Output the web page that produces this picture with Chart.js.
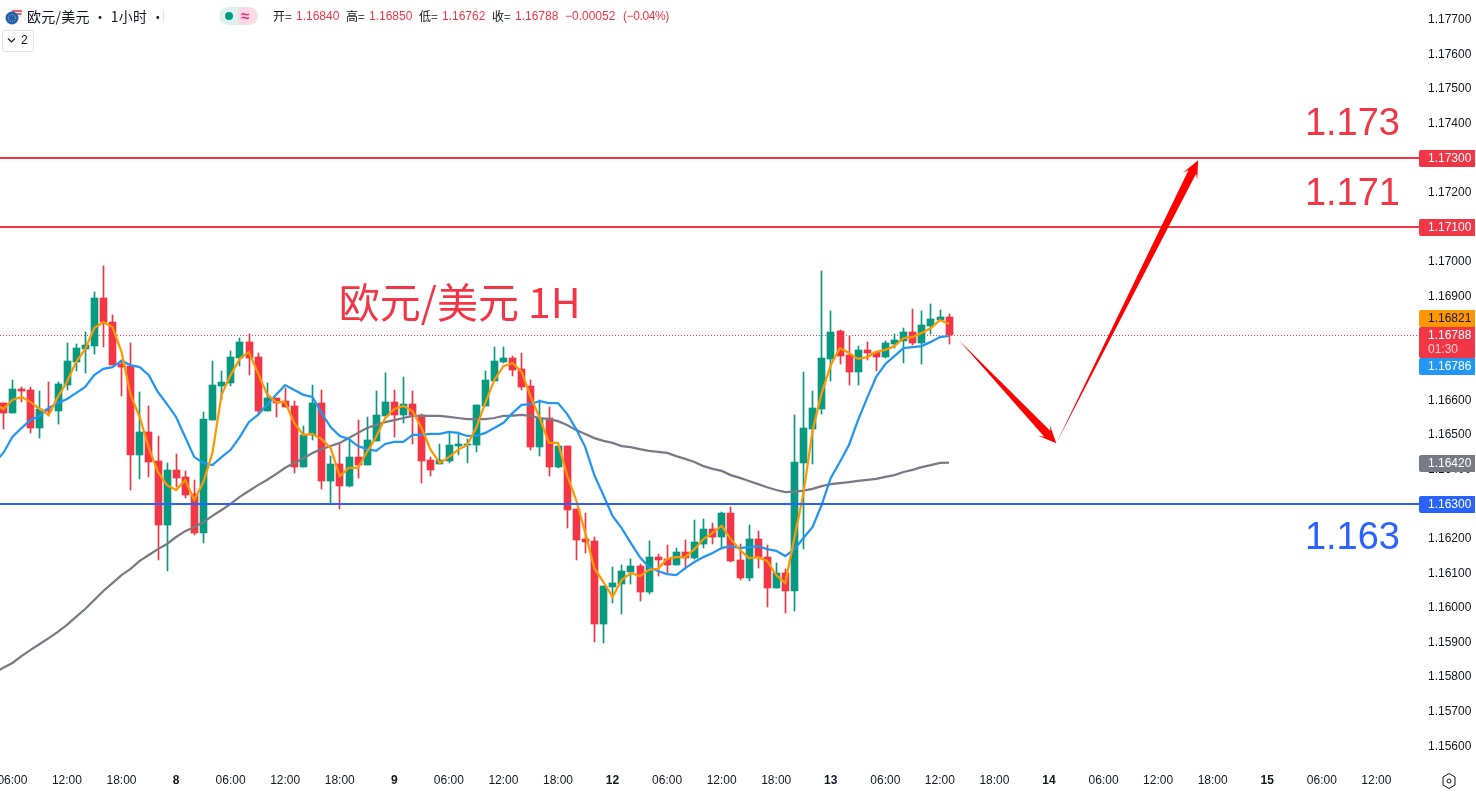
<!DOCTYPE html>
<html lang="zh"><head><meta charset="utf-8"><title>欧元/美元 1H</title>
<script src="https://cdn.jsdelivr.net/npm/chart.js@4"></script>
<style>
html,body{margin:0;padding:0;background:#fff;overflow:hidden}
#wrap{position:relative;width:1476px;height:793px;font-family:"Liberation Sans",Arial,sans-serif}
canvas{position:absolute;left:0;top:0}
.h{position:absolute;white-space:nowrap;color:#131722}
.cjk{font-family:"Noto Sans CJK SC","Liberation Sans",sans-serif}
.ohlc{font-size:12px;top:9px;line-height:15px;letter-spacing:0}
.ohlc.cjk{top:8px}
.ohlc b{font-weight:400;color:#F23645}
</style></head><body>
<div id="wrap">
<canvas id="c" width="1476" height="793"></canvas>
<svg class="h" style="left:3px;top:6px" width="22" height="20" viewBox="0 0 22 20"><circle cx="14" cy="7" r="5.5" fill="#f2f2f2"/><path d="M9 5h10M9.5 8h9" stroke="#e8394a" stroke-width="1.6"/><circle cx="9" cy="12" r="6.5" fill="#1f5fb4"/><circle cx="9" cy="12" r="3.5" fill="none" stroke="#f4c430" stroke-width="1" stroke-dasharray="1 1.2"/></svg>
<div class="h cjk" style="left:27px;top:6px;font-size:14px;line-height:20px;letter-spacing:.25px">欧元/美元 · 1小时 ·</div>
<div class="h" style="left:163px;top:10px;width:1px;height:12px;background:#e0e3eb"></div>
<div class="h" style="left:219px;top:7px;width:19px;height:18px;background:#DDF2EE;border-radius:9px 0 0 9px"></div>
<div class="h" style="left:238px;top:7px;width:20px;height:18px;background:#FCD9E4;border-radius:0 9px 9px 0"></div>
<div class="h" style="left:225px;top:12px;width:8px;height:8px;border-radius:50%;background:#089981"></div>
<div class="h" style="left:241px;top:6px;font-size:15px;line-height:20px;font-weight:700;color:#F7296E">≈</div>
<div class="h ohlc cjk" style="left:273px">开=</div><div class="h ohlc" style="left:296px"><b>1.16840</b></div>
<div class="h ohlc cjk" style="left:346px">高=</div><div class="h ohlc" style="left:369px"><b>1.16850</b></div>
<div class="h ohlc cjk" style="left:419px">低=</div><div class="h ohlc" style="left:442px"><b>1.16762</b></div>
<div class="h ohlc cjk" style="left:492px">收=</div><div class="h ohlc" style="left:515px"><b>1.16788</b></div>
<div class="h ohlc" style="left:565px"><b>−0.00052</b></div><div class="h ohlc" style="left:623px;letter-spacing:-.4px"><b>(−0.04%)</b></div>
<div class="h" style="left:2px;top:30px;width:30px;height:20px;border:1px solid #e0e3eb;border-radius:3px;box-sizing:content-box"></div>
<svg class="h" style="left:7px;top:37px" width="9" height="7" viewBox="0 0 9 7"><path d="M1 1.5 4.5 5 8 1.5" fill="none" stroke="#131722" stroke-width="1.1"/></svg>
<div class="h" style="left:21px;top:32px;font-size:12px;line-height:16px">2</div>
<svg class="h" style="left:1441px;top:772px" width="16" height="18" viewBox="0 0 16 18"><path d="M8 1.5 14 5v8l-6 3.5L2 13V5z" fill="none" stroke="#131722" stroke-width="1"/><circle cx="8" cy="9" r="2" fill="none" stroke="#131722" stroke-width="1"/></svg>
</div>
<script>
const hourIndex=[0,1,2,3,4,5,6,7,8,9,10,11,12,13,14,15,16,17,18,19,20,21,22,23,24,25,26,27,28,29,30,31,32,33,34,35,36,37,38,39,40,41,42,43,44,45,46,47,48,49,50,51,52,53,54,55,56,57,58,59,60,61,62,63,64,65,66,67,68,69,70,71,72,73,74,75,76,77,78,79,80,81,82,83,84,85,86,87,88,89,90,91,92,93,94,95,96,97,98,99,100,101,102,103,104];
const opens=[1.16592,1.16563,1.16633,1.16630,1.16520,1.16575,1.16569,1.16644,1.16711,1.16748,1.16757,1.16896,1.16826,1.16705,1.16699,1.16442,1.16509,1.16425,1.16240,1.16399,1.16379,1.16329,1.16217,1.16543,1.16642,1.16650,1.16722,1.16769,1.16725,1.16569,1.16607,1.16598,1.16584,1.16407,1.16500,1.16592,1.16367,1.16416,1.16352,1.16436,1.16413,1.16483,1.16555,1.16595,1.16558,1.16589,1.16558,1.16428,1.16416,1.16425,1.16468,1.16471,1.16471,1.16584,1.16656,1.16711,1.16722,1.16691,1.16642,1.16465,1.16549,1.16407,1.16468,1.16286,1.16199,1.16194,1.15954,1.16061,1.16069,1.16104,1.16121,1.16046,1.16147,1.16142,1.16124,1.16162,1.16144,1.16185,1.16228,1.16205,1.16274,1.16139,1.16087,1.16199,1.16147,1.16058,1.16101,1.16049,1.16419,1.16517,1.16575,1.16720,1.16800,1.16731,1.16682,1.16746,1.16740,1.16725,1.16763,1.16772,1.16798,1.16766,1.16815,1.16832,1.16840];
const highs=[1.16592,1.16659,1.16639,1.16639,1.16627,1.16653,1.16653,1.16766,1.16763,1.16798,1.16913,1.16988,1.16847,1.16717,1.16766,1.16624,1.16584,1.16497,1.16419,1.16445,1.16396,1.16370,1.16566,1.16714,1.16685,1.16743,1.16780,1.16792,1.16737,1.16650,1.16607,1.16636,1.16598,1.16526,1.16644,1.16630,1.16439,1.16477,1.16485,1.16543,1.16552,1.16627,1.16679,1.16630,1.16668,1.16627,1.16561,1.16436,1.16474,1.16509,1.16509,1.16488,1.16587,1.16685,1.16754,1.16754,1.16728,1.16737,1.16659,1.16601,1.16581,1.16468,1.16468,1.16286,1.16274,1.16205,1.16064,1.16118,1.16124,1.16142,1.16127,1.16194,1.16156,1.16182,1.16173,1.16196,1.16254,1.16257,1.16245,1.16277,1.16292,1.16185,1.16240,1.16222,1.16182,1.16130,1.16113,1.16558,1.16682,1.16627,1.16974,1.16858,1.16803,1.16786,1.16757,1.16769,1.16740,1.16772,1.16792,1.16809,1.16864,1.16858,1.16878,1.16861,1.16850];
const lows=[1.16517,1.16563,1.16595,1.16506,1.16491,1.16555,1.16532,1.16630,1.16685,1.16679,1.16734,1.16754,1.16702,1.16613,1.16341,1.16373,1.16379,1.16139,1.16107,1.16349,1.16318,1.16211,1.16188,1.16543,1.16601,1.16642,1.16699,1.16673,1.16561,1.16569,1.16552,1.16581,1.16390,1.16407,1.16485,1.16344,1.16301,1.16286,1.16349,1.16376,1.16413,1.16483,1.16555,1.16494,1.16535,1.16474,1.16361,1.16381,1.16416,1.16419,1.16442,1.16419,1.16451,1.16584,1.16656,1.16708,1.16670,1.16630,1.16457,1.16439,1.16381,1.16405,1.16231,1.16139,1.16159,1.15902,1.15899,1.16014,1.15982,1.16069,1.16020,1.16040,1.16092,1.16101,1.16124,1.16113,1.16142,1.16173,1.16185,1.16170,1.16133,1.16081,1.16078,1.16115,1.16003,1.16058,1.15985,1.15991,1.16170,1.16416,1.16561,1.16656,1.16705,1.16644,1.16644,1.16717,1.16685,1.16722,1.16751,1.16708,1.16760,1.16705,1.16792,1.16832,1.16762];
const closes=[1.16563,1.16633,1.16627,1.16520,1.16575,1.16569,1.16647,1.16714,1.16751,1.16760,1.16896,1.16826,1.16702,1.16696,1.16442,1.16509,1.16422,1.16240,1.16399,1.16376,1.16326,1.16217,1.16546,1.16644,1.16653,1.16725,1.16769,1.16722,1.16569,1.16607,1.16592,1.16581,1.16407,1.16500,1.16592,1.16367,1.16416,1.16352,1.16436,1.16413,1.16485,1.16558,1.16595,1.16558,1.16589,1.16558,1.16425,1.16399,1.16428,1.16471,1.16474,1.16474,1.16587,1.16659,1.16714,1.16722,1.16688,1.16639,1.16465,1.16549,1.16407,1.16468,1.16283,1.16196,1.16191,1.15954,1.16064,1.16072,1.16107,1.16121,1.16046,1.16147,1.16139,1.16124,1.16162,1.16144,1.16191,1.16228,1.16205,1.16274,1.16136,1.16087,1.16199,1.16147,1.16058,1.16101,1.16049,1.16422,1.16520,1.16578,1.16722,1.16798,1.16728,1.16682,1.16746,1.16737,1.16725,1.16766,1.16774,1.16798,1.16766,1.16818,1.16835,1.16841,1.16788];
// moving averages start one hour earlier than the first visible candle
const maHourIndex=[-1].concat(hourIndex);
const maFast=[1.16592,1.16575,1.16601,1.16610,1.16595,1.16575,1.16558,1.16610,1.16653,1.16711,1.16748,1.16809,1.16826,1.16812,1.16740,1.16616,1.16552,1.16462,1.16393,1.16355,1.16341,1.16370,1.16312,1.16364,1.16448,1.16616,1.16673,1.16720,1.16740,1.16679,1.16618,1.16595,1.16595,1.16535,1.16500,1.16503,1.16488,1.16462,1.16381,1.16405,1.16405,1.16451,1.16494,1.16549,1.16575,1.16584,1.16569,1.16520,1.16457,1.16419,1.16436,1.16457,1.16471,1.16520,1.16592,1.16659,1.16699,1.16708,1.16682,1.16610,1.16549,1.16477,1.16477,1.16384,1.16312,1.16217,1.16115,1.16075,1.16032,1.16081,1.16101,1.16092,1.16110,1.16113,1.16142,1.16147,1.16147,1.16170,1.16199,1.16217,1.16237,1.16199,1.16168,1.16144,1.16147,1.16136,1.16095,1.16072,1.16202,1.16332,1.16514,1.16621,1.16702,1.16751,1.16737,1.16720,1.16725,1.16740,1.16746,1.16757,1.16780,1.16783,1.16795,1.16809,1.16832,1.16821];
const maMid=[1.16419,1.16448,1.16494,1.16520,1.16543,1.16555,1.16578,1.16592,1.16604,1.16621,1.16639,1.16673,1.16691,1.16696,1.16714,1.16702,1.16696,1.16673,1.16624,1.16589,1.16552,1.16494,1.16436,1.16419,1.16413,1.16436,1.16457,1.16494,1.16537,1.16558,1.16587,1.16616,1.16644,1.16630,1.16616,1.16610,1.16563,1.16523,1.16497,1.16488,1.16468,1.16459,1.16454,1.16474,1.16480,1.16480,1.16500,1.16500,1.16503,1.16503,1.16509,1.16506,1.16497,1.16497,1.16506,1.16520,1.16535,1.16563,1.16587,1.16589,1.16598,1.16592,1.16592,1.16561,1.16517,1.16465,1.16384,1.16326,1.16266,1.16231,1.16188,1.16147,1.16118,1.16107,1.16098,1.16095,1.16115,1.16133,1.16147,1.16159,1.16173,1.16179,1.16173,1.16176,1.16179,1.16170,1.16165,1.16150,1.16170,1.16202,1.16234,1.16298,1.16376,1.16422,1.16471,1.16543,1.16607,1.16668,1.16705,1.16728,1.16751,1.16754,1.16757,1.16769,1.16783,1.16786];
const maSlow=[1.15812,1.15827,1.15841,1.15861,1.15879,1.15896,1.15913,1.15931,1.15951,1.15974,1.15997,1.16023,1.16049,1.16072,1.16095,1.16113,1.16136,1.16153,1.16170,1.16185,1.16205,1.16222,1.16234,1.16248,1.16266,1.16283,1.16301,1.16321,1.16338,1.16355,1.16370,1.16387,1.16405,1.16419,1.16433,1.16448,1.16459,1.16468,1.16477,1.16491,1.16506,1.16520,1.16529,1.16537,1.16543,1.16549,1.16555,1.16555,1.16555,1.16555,1.16552,1.16549,1.16546,1.16546,1.16546,1.16549,1.16555,1.16556,1.16558,1.16555,1.16549,1.16546,1.16540,1.16529,1.16514,1.16503,1.16491,1.16483,1.16477,1.16468,1.16465,1.16459,1.16454,1.16451,1.16448,1.16439,1.16431,1.16422,1.16410,1.16402,1.16396,1.16384,1.16376,1.16367,1.16358,1.16349,1.16341,1.16335,1.16336,1.16339,1.16344,1.16352,1.16358,1.16361,1.16364,1.16367,1.16370,1.16373,1.16379,1.16384,1.16393,1.16399,1.16407,1.16413,1.16419,1.16420];
const tickIndex=[1,7,13,19,25,31,37,43,49,55,61,67,73,79,85,91,97,103,109,115,121,127,133,139,145,151];
const tickLabels=['06:00','12:00','18:00','8','06:00','12:00','18:00','9','06:00','12:00','18:00','12','06:00','12:00','18:00','13','06:00','12:00','18:00','14','06:00','12:00','18:00','15','06:00','12:00'];
const priceTicks=[1.156,1.157,1.158,1.159,1.16,1.161,1.162,1.163,1.164,1.165,1.166,1.167,1.168,1.169,1.17,1.171,1.172,1.173,1.174,1.175,1.176,1.177];
const levelHigh=1.173, levelMid=1.171, levelLow=1.163;
const lastClose=1.16788;
const arrowDown={from:[105.1,1.16774],to:[115.8,1.16476]};
const arrowUp={from:[115.8,1.16476],to:[131.4,1.17294]};
const notes=[
 {text:'1.173',x:153.6,y:1.17396,color:'#F23645',align:'right'},
 {text:'1.171',x:153.6,y:1.17194,color:'#F23645',align:'right'},
 {text:'1.163',x:153.6,y:1.16200,color:'#2962FF',align:'right'},
 {text:'欧元/美元 1H',x:36.9,y:1.16884,color:'#F23645',align:'left'}
];
// badge: value, fill, text colour, vertical nudge of the box from the value's pixel
const badges=[
 {v:1.173,fill:'#F23645',ink:'#fff',dy:0,label:'1.17300'},
 {v:1.171,fill:'#F23645',ink:'#fff',dy:0,label:'1.17100'},
 {v:1.16821,fill:'#FF9800',ink:'#131722',dy:-5.4,label:'1.16821'},
 {v:1.16786,fill:'#2196F3',ink:'#fff',dy:31,label:'1.16786'},
 {v:1.1642,fill:'#787B86',ink:'#fff',dy:1,label:'1.16420'},
 {v:1.163,fill:'#2962FF',ink:'#fff',dy:0.5,label:'1.16300'}
];
const UP='#089981', DOWN='#F23645';
const colours=opens.map((o,i)=>closes[i]>=o?UP:DOWN);
const X_MIN=-0.363, X_MAX=155.69, Y_MAX=1.17757, Y_MIN=1.155462;
const FONT='"Liberation Sans",Arial,sans-serif';

const snap={id:'snap',beforeDatasetsDraw(chart){
  chart.getSortedVisibleDatasetMetas().forEach(m=>{
    if(m.type==='bar'){
      m.data.forEach(el=>{el.x=Math.floor(el.x+0.2)+0.5;el.y=Math.round(el.y);el.base=Math.round(el.base);
        if(el.base===el.y)el.base=el.y+1;});
    }else if(m.data.length===2){
      const dashed=(m.dataset.options.borderDash||[]).length>0;
      m.data.forEach(p=>{p.y=dashed?Math.floor(p.y)+0.5:Math.round(p.y);});
    }
  });
}};
function arrow(ctx,x0,y0,x1,y1){
  const L=Math.hypot(x1-x0,y1-y0),ux=(x1-x0)/L,uy=(y1-y0)/L,nx=-uy,ny=ux;
  const at=d=>[x1-ux*d,y1-uy*d];
  const [nkx,nky]=at(13),[sx,sy]=at(18);
  ctx.beginPath();ctx.moveTo(x0,y0);
  ctx.lineTo(nkx+nx*4.2,nky+ny*4.2);
  ctx.lineTo(sx+nx*8,sy+ny*8);
  ctx.lineTo(x1,y1);
  ctx.lineTo(sx-nx*8,sy-ny*8);
  ctx.lineTo(nkx-nx*4.2,nky-ny*4.2);
  ctx.closePath();ctx.fillStyle='#FF0000';ctx.fill();
}
const overlay={id:'overlay',afterDraw(chart){
  const {ctx,scales:{x,y}}=chart;
  ctx.save();
  [arrowDown,arrowUp].forEach(a=>arrow(ctx,x.getPixelForValue(a.from[0]),y.getPixelForValue(a.from[1]),x.getPixelForValue(a.to[0]),y.getPixelForValue(a.to[1])));
  ctx.textBaseline='middle';
  notes.forEach(n=>{const numeric=/^[0-9.]+$/.test(n.text);
    ctx.font=numeric?'38px '+FONT:'41px "Noto Sans CJK SC",'+FONT;ctx.fillStyle=n.color;ctx.textAlign=n.align;
    ctx.fillText(n.text,x.getPixelForValue(n.x),y.getPixelForValue(n.y));});
  const L=1419,W=56,H=17;
  ctx.textAlign='left';ctx.font='12px '+FONT;
  badges.forEach(b=>{const c=y.getPixelForValue(b.v)+b.dy;
    ctx.fillStyle=b.fill;ctx.beginPath();ctx.roundRect(L,Math.round(c-H/2),W,H,[2,0,0,2]);ctx.fill();
    ctx.fillStyle=b.ink;ctx.fillText(b.label,1428,Math.round(c-H/2)+H/2+0.5);});
  // last price box with countdown
  const ly=y.getPixelForValue(lastClose);
  ctx.fillStyle=DOWN;ctx.beginPath();ctx.roundRect(L,327,W,31,[2,0,0,2]);ctx.fill();
  ctx.fillStyle='#fff';ctx.fillText(lastClose.toFixed(5),1428,ly+0.5);
  ctx.fillStyle='rgba(255,255,255,.75)';ctx.fillText('01:30',1428,ly+14);
  ctx.restore();
}};

const levelData=v=>[{x:X_MIN,y:v},{x:X_MAX,y:v}];
const lineSet=(data,color,order)=>({type:'line',data:data.map((v,i)=>({x:maHourIndex[i],y:v})),borderColor:color,borderWidth:2.25,pointRadius:0,tension:0,fill:false,order});
const levelSet=(v,color,order,w,dash)=>({type:'line',data:levelData(v),borderColor:color,borderWidth:w,borderDash:dash||[],pointRadius:0,tension:0,fill:false,order});

new Chart(document.getElementById('c'),{
 type:'bar',
 data:{datasets:[
  levelSet(lastClose,DOWN,6,1,[1,2]),
  levelSet(levelHigh,DOWN,1,2),
  levelSet(levelMid,DOWN,1,2),
  levelSet(levelLow,'#2962FF',1,2),
  lineSet(maFast,'#FF9800',2),
  lineSet(maMid,'#2196F3',3),
  lineSet(maSlow,'#787B86',4),
  {type:'bar',label:'body',data:hourIndex.map((h,i)=>({x:h,y:[opens[i],closes[i]]})),backgroundColor:colours,barThickness:7,grouped:false,borderWidth:0,order:5},
  {type:'bar',label:'wick',data:hourIndex.map((h,i)=>({x:h,y:[lows[i],highs[i]]})),backgroundColor:colours,barThickness:1,grouped:false,borderWidth:0,order:5.5}
 ]},
 options:{
  responsive:false,animation:false,devicePixelRatio:1,
  layout:{padding:0},
  plugins:{legend:{display:false},tooltip:{enabled:false},title:{display:false}},
  scales:{
   x:{type:'linear',min:X_MIN,max:X_MAX,offset:false,
    grid:{display:false,drawTicks:false,tickLength:0},border:{display:false},
    afterBuildTicks:s=>{s.ticks=tickIndex.map(v=>({value:v}));},
    afterFit:s=>{s.height=28;s.paddingLeft=0;s.paddingRight=0;},
    ticks:{autoSkip:false,maxRotation:0,minRotation:0,padding:8,color:'#131722',
     font:c=>({family:FONT,size:12,weight:/^\d+$/.test(tickLabels[tickIndex.indexOf(c.tick&&c.tick.value)]||'')?'700':'400'}),
     callback:v=>tickLabels[tickIndex.indexOf(v)]}},
   y:{type:'linear',position:'right',min:Y_MIN,max:Y_MAX,
    grid:{display:false,drawTicks:false,tickLength:0},border:{display:false},
    afterBuildTicks:s=>{s.ticks=priceTicks.map(v=>({value:v}));},
    afterFit:s=>{s.width=57;s.paddingTop=0;s.paddingBottom=0;},
    ticks:{padding:9,color:'#131722',font:{family:FONT,size:12},autoSkip:false,callback:v=>Number(v).toFixed(5)}}
  }
 },
 plugins:[snap,overlay]
});
</script>
</body></html>
